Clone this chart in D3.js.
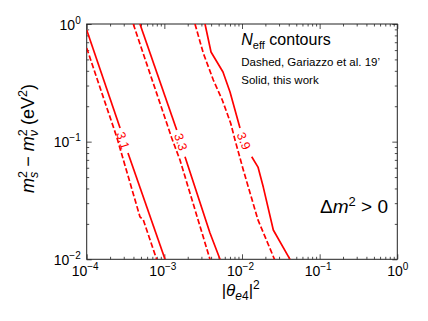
<!DOCTYPE html>
<html><head><meta charset="utf-8">
<script src="https://cdn.jsdelivr.net/npm/d3@7"></script>
<style>
html,body{margin:0;padding:0;background:#fff;}
svg{display:block;font-family:"Liberation Sans",Arial,sans-serif;}
</style></head><body>
<svg id="chart" width="428" height="321"></svg>
<script>
// ---- data ----
const xTickValues = [1e-4, 1e-3, 1e-2, 1e-1, 1];
const xTickExponents = ["\u22124", "\u22123", "\u22122", "\u22121", "0"];
const yTickValues = [1e-2, 1e-1, 1];
const yTickExponents = ["\u22122", "\u22121", "0"];
const contourLevels = ["3.1", "3.3", "3.9"];

// solid contours (this work), split where the inline label sits
const solid31 = [
  [[1e-4, 0.889], [2.69e-4, 0.1306]],
  [[3.40e-4, 0.080], [1.02e-3, 0.01]]
];
const solid33 = [
  [[4.85e-4, 1], [1.443e-3, 0.1256]],
  [[1.845e-3, 0.0745], [3.87e-3, 0.01673], [5.21e-3, 0.01]]
];
const solid39 = [
  [[3.34e-3, 1], [3.99e-3, 0.578], [5.69e-3, 0.391], [7.01e-3, 0.264], [9.42e-3, 0.1306]],
  [[0.01334, 0.0745], [0.01607, 0.0608], [0.0188, 0.0411], [0.0253, 0.01774], [0.0415, 0.01]]
];
// dashed contours (Gariazzo et al. 19')
const dashed31 = [[1e-4, 0.625], [2.43e-4, 0.110], [4.85e-4, 0.0230], [5.36e-4, 0.0216], [7.96e-4, 0.01]];
const dashed33 = [[3.98e-4, 1], [1.244e-3, 0.1074], [1.59e-3, 0.0698], [3.87e-3, 0.01]];
const dashed39 = [[2.48e-3, 1], [3.18e-3, 0.563], [4.27e-3, 0.334], [5.57e-3, 0.226], [7.15e-3, 0.1433],
                  [8.13e-3, 0.1033], [0.0104, 0.0574], [0.01607, 0.0216], [0.0262, 0.01]];
// inline label anchor points
const labelPositions = [[2.91e-4, 0.1022], [1.614e-3, 0.0993], [0.01045, 0.1011]];

// ---- drawing ----
const svg = d3.select("#chart");
const x = d3.scaleLog().domain([1e-4, 1]).range([86.7, 397.3]);
const y = d3.scaleLog().domain([1e-2, 1]).range([259.3, 24]);
const X0 = x.range()[0], X1 = x.range()[1], Y0 = y.range()[0], Y1 = y.range()[1];

function minors(dom) {
  const out = [];
  for (let e = Math.round(Math.log10(dom[0])); e < Math.round(Math.log10(dom[1])); e++)
    for (let k = 2; k <= 9; k++) out.push(k * Math.pow(10, e));
  return out;
}

svg.append("defs").append("clipPath").attr("id", "clip")
  .append("rect").attr("x", X0).attr("y", Y1).attr("width", X1 - X0).attr("height", Y0 - Y1);

const axG = svg.append("g");
function addAxis(gen, tr) {
  const g = axG.append("g").attr("transform", tr).call(gen)
    .attr("font-family", "Liberation Sans, Arial, sans-serif").attr("font-size", 14);
  g.select(".domain").remove();
  g.selectAll("line").attr("stroke", "#222").attr("stroke-width", 0.8);
  return g;
}
// minor ticks all sides
addAxis(d3.axisBottom(x).tickValues(minors(x.domain())).tickSize(-2.5).tickFormat(""), `translate(0,${Y0})`);
addAxis(d3.axisTop(x).tickValues(minors(x.domain())).tickSize(-2.5).tickFormat(""), `translate(0,${Y1})`);
addAxis(d3.axisLeft(y).tickValues(minors(y.domain())).tickSize(-2.5).tickFormat(""), `translate(${X0},0)`);
addAxis(d3.axisRight(y).tickValues(minors(y.domain())).tickSize(-2.5).tickFormat(""), `translate(${X1},0)`);
// major
addAxis(d3.axisTop(x).tickValues(xTickValues).tickSize(-5).tickFormat(""), `translate(0,${Y1})`);
addAxis(d3.axisRight(y).tickValues(yTickValues).tickSize(-5).tickFormat(""), `translate(${X1},0)`);
const xAx = addAxis(d3.axisBottom(x).tickValues(xTickValues).tickSize(-5).tickPadding(4), `translate(0,${Y0})`);
const yAx = addAxis(d3.axisLeft(y).tickValues(yTickValues).tickSize(-5).tickPadding(6), `translate(${X0},0)`);

xAx.selectAll("text").each(function (d, i) {
  const t = d3.select(this).text(null).attr("fill", "#000").attr("dy", "0.9em")
    .attr("dx", i < 4 ? -2 : 0);
  t.append("tspan").text("10");
  t.append("tspan").attr("dy", -6).attr("font-size", 10).text(xTickExponents[i]);
});
yAx.selectAll("text").each(function (d, i) {
  const t = d3.select(this).text(null).attr("fill", "#000").attr("dy", "0.36em");
  t.append("tspan").text("10");
  t.append("tspan").attr("dy", -6).attr("font-size", 10).text(yTickExponents[i]);
});

// frame
svg.append("rect").attr("x", X0).attr("y", Y1).attr("width", X1 - X0).attr("height", Y0 - Y1)
  .attr("fill", "none").attr("stroke", "#222").attr("stroke-width", 1);

// contours
const line = d3.line().x(d => x(d[0])).y(d => y(d[1]));
const cg = svg.append("g").attr("clip-path", "url(#clip)");
[solid31, solid33, solid39].forEach(segs => segs.forEach(seg =>
  cg.append("path").attr("d", line(seg)).attr("fill", "none").attr("stroke", "#ff0000")
    .attr("stroke-width", 1.7).attr("stroke-linejoin", "round")));
[dashed31, dashed33, dashed39].forEach(seg =>
  cg.append("path").attr("d", line(seg)).attr("fill", "none").attr("stroke", "#ff0000")
    .attr("stroke-width", 1.7).attr("stroke-dasharray", "5.5,2.4"));

// inline labels
[solid31, solid33, solid39].forEach((segs, i) => {
  const a = segs[0][segs[0].length - 1], b = segs[1][0];
  const ang = Math.atan2(y(b[1]) - y(a[1]), x(b[0]) - x(a[0])) * 180 / Math.PI;
  const p = labelPositions[i];
  svg.append("text")
    .attr("transform", `translate(${x(p[0])},${y(p[1])}) rotate(${ang})`)
    .attr("text-anchor", "middle").attr("dominant-baseline", "central")
    .attr("font-size", 12.5).attr("fill", "#ff0000").text(contourLevels[i]);
});

// annotation text
const t1 = svg.append("text").attr("x", 241.3).attr("y", 45).attr("font-size", 16).attr("fill", "#000");
t1.append("tspan").attr("font-style", "italic").text("N");
t1.append("tspan").attr("font-size", 11).attr("dy", 4).text("eff");
t1.append("tspan").attr("dy", -4).text(" contours");
svg.append("text").attr("x", 241.3).attr("y", 65.7).attr("font-size", 11.5).text("Dashed, Gariazzo et al. 19\u2019");
svg.append("text").attr("x", 241.3).attr("y", 84).attr("font-size", 11.5).text("Solid, this work");

const t2 = svg.append("text").attr("x", 320).attr("y", 213.3).attr("font-size", 19);
t2.append("tspan").text("\u0394");
t2.append("tspan").attr("font-style", "italic").text("m");
t2.append("tspan").attr("font-size", 13).attr("dy", -7).text("2");
t2.append("tspan").attr("dy", 7).text(" > 0");

// axis labels
const xl = svg.append("text").attr("x", 240.7).attr("y", 296).attr("text-anchor", "middle").attr("font-size", 17);
xl.append("tspan").text("|");
xl.append("tspan").attr("font-style", "italic").text("\u03B8");
xl.append("tspan").attr("font-size", 12).attr("dy", 4).attr("font-style", "italic").text("e");
xl.append("tspan").attr("font-size", 12).text("4");
xl.append("tspan").attr("dy", -4).text("|");
xl.append("tspan").attr("font-size", 12).attr("dy", -7).text("2");

const yl = svg.append("text").attr("transform", "translate(34,138.5) rotate(-90)")
  .attr("text-anchor", "middle").attr("font-size", 18);
yl.append("tspan").attr("font-style", "italic").text("m");
yl.append("tspan").attr("font-size", 12.5).attr("dy", -7.5).text("2");
yl.append("tspan").attr("font-size", 12.5).attr("dx", -7).attr("dy", 11.5).attr("font-style", "italic").text("s");
yl.append("tspan").attr("dy", -4).text(" \u2212 ");
yl.append("tspan").attr("font-style", "italic").text("m");
yl.append("tspan").attr("font-size", 12.5).attr("dy", -7.5).text("2");
yl.append("tspan").attr("font-size", 12.5).attr("dx", -7).attr("dy", 11.5).attr("font-style", "italic").text("\u03BD");
yl.append("tspan").attr("dy", -4).text(" (eV");
yl.append("tspan").attr("font-size", 12.5).attr("dy", -7.5).text("2");
yl.append("tspan").attr("dy", 7.5).text(")");
</script>
</body></html>
